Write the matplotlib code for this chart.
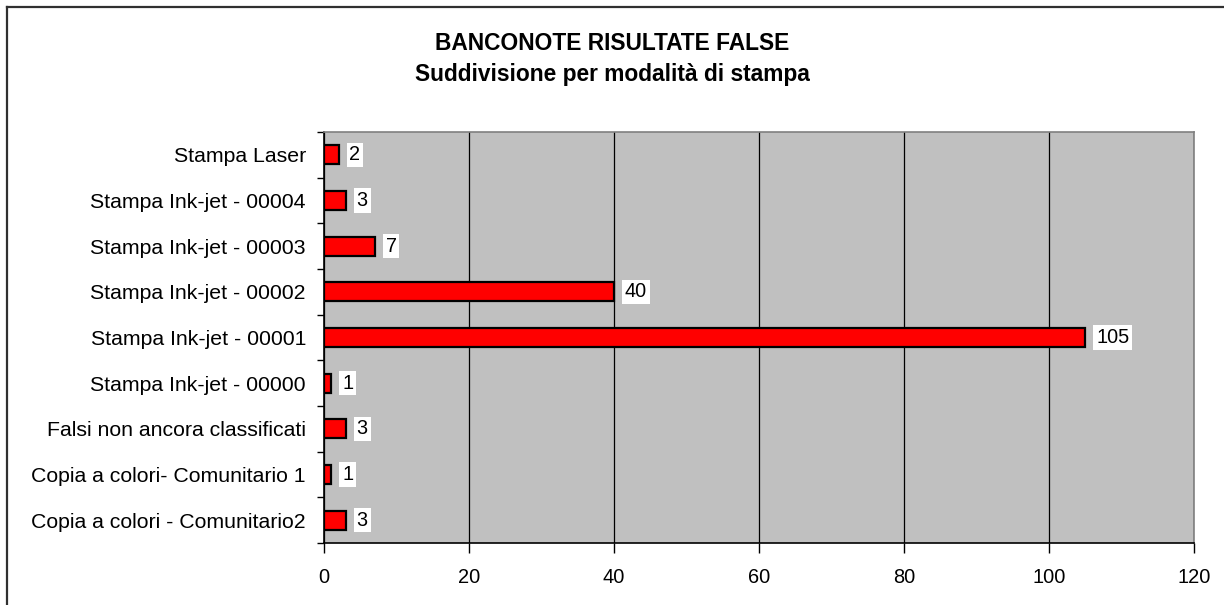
import matplotlib
matplotlib.use("Agg")
import matplotlib.pyplot as plt
from matplotlib.lines import Line2D
import numpy as np

plt.rcParams['font.family'] = ['Liberation Sans', 'DejaVu Sans']

# categories from bottom to top, as in the chart
categorie = ['Copia a colori - Comunitario2',
             'Copia a colori- Comunitario 1',
             'Falsi non ancora classificati',
             'Stampa Ink-jet - 00000',
             'Stampa Ink-jet - 00001',
             'Stampa Ink-jet - 00002',
             'Stampa Ink-jet - 00003',
             'Stampa Ink-jet - 00004',
             'Stampa Laser']
valori = [3, 1, 3, 1, 105, 40, 7, 3, 2]
x_ticks = [0, 20, 40, 60, 80, 100, 120]

W, H = 1224, 605
fig = plt.figure(figsize=(W / 100, H / 100), dpi=100)
fig.patch.set_facecolor('white')

# outer chart frame (only top and left visible)
fig.add_artist(Line2D([7 / W, 1], [1 - 7 / H, 1 - 7 / H], color='#303030', lw=1.6))
fig.add_artist(Line2D([7 / W, 7 / W], [0, 1 - 7 / H], color='#303030', lw=1.6))

ax = fig.add_axes([324 / W, 1 - 543 / H, 870 / W, 411 / H])
ax.set_facecolor('#C0C0C0')

y = np.arange(len(categorie))
ax.barh(y, valori, height=0.42, color='#FF0000', edgecolor='black', linewidth=1.6, zorder=3)

for yi, v in zip(y, valori):
    ax.text(v + 1.5, yi, str(v), va='center', ha='left', fontsize=14.3,
            bbox=dict(facecolor='white', edgecolor='none', pad=2.0), zorder=4)

ax.set_xlim(0, 120)
ax.set_ylim(-0.5, len(categorie) - 0.5)
ax.set_xticks(x_ticks)
ax.set_xticklabels([str(t) for t in x_ticks], fontsize=14.4)
ax.set_yticks(y)
ax.set_yticklabels(categorie, fontsize=15.3)
ax.set_yticks(np.arange(-0.5, len(categorie), 1), minor=True)

ax.tick_params(axis='y', which='major', length=0, pad=13)
ax.tick_params(axis='y', which='minor', length=5, width=1, direction='out')
ax.tick_params(axis='x', length=7, width=1, direction='out', pad=11)

ax.grid(axis='x', color='black', linewidth=0.9, zorder=1)
ax.set_axisbelow(True)

ax.spines['left'].set_color('black')
ax.spines['bottom'].set_color('black')
ax.spines['top'].set_color('#808080')
ax.spines['right'].set_color('#808080')
for s in ax.spines.values():
    s.set_linewidth(1.2)

fig.text(0.5, 1 - 43 / H, 'BANCONOTE RISULTATE FALSE', ha='center', va='center',
         fontsize=16.4, fontweight='bold')
fig.text(0.5, 1 - 74 / H, 'Suddivisione per modalità di stampa', ha='center', va='center',
         fontsize=16.4, fontweight='bold')

fig.savefig('out.png', dpi=100)
